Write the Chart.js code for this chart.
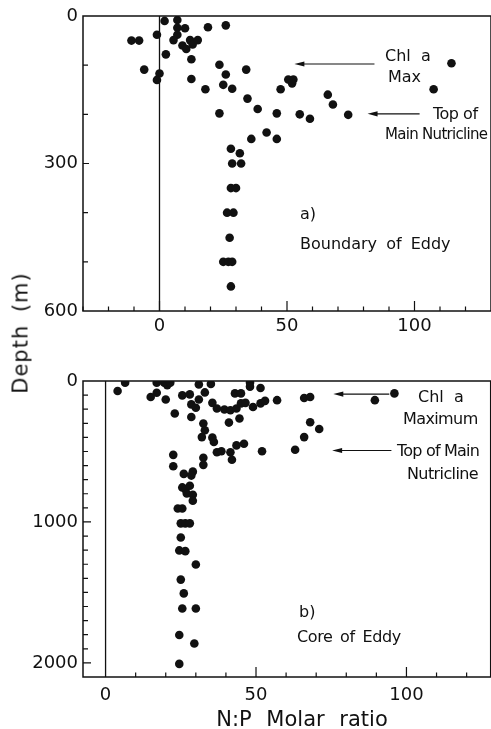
<!DOCTYPE html>
<html>
<head>
<meta charset="utf-8">
<script src="https://cdn.jsdelivr.net/npm/chart.js@4"></script>
<style>
  html,body{margin:0;padding:0;background:#fff;}
  body{width:491px;height:729px;position:relative;overflow:hidden;font-family:"DejaVu Sans",sans-serif;color:#111;}
  canvas{position:absolute;left:0;}
  .t{position:absolute;white-space:nowrap;font-size:15px;line-height:1;color:#111;}
</style>
</head>
<body>
<canvas id="ca" width="496" height="345" style="top:0"></canvas>
<canvas id="cb" width="495" height="374" style="top:355px"></canvas>

<div class="t" style="left:385px;top:48px;font-size:16px;">Chl&nbsp;&nbsp;a</div>
<div class="t" style="left:388px;top:69px;font-size:16px;">Max</div>
<div class="t" style="left:433px;top:106px;font-size:16px;letter-spacing:-0.5px;">Top of</div>
<div class="t" style="left:385px;top:127px;font-size:15px;letter-spacing:-0.7px;">Main Nutricline</div>
<div class="t" style="left:300px;top:206px;font-size:16px;">a)</div>
<div class="t" style="left:300px;top:236px;font-size:16px;word-spacing:4px;">Boundary of Eddy</div>

<div class="t" style="left:418px;top:389px;font-size:16px;">Chl&nbsp;&nbsp;a</div>
<div class="t" style="left:403px;top:411px;font-size:16px;letter-spacing:-0.6px;">Maximum</div>
<div class="t" style="left:397px;top:443px;font-size:16px;letter-spacing:-0.8px;">Top of Main</div>
<div class="t" style="left:407px;top:466px;font-size:16px;letter-spacing:-0.6px;">Nutricline</div>
<div class="t" style="left:299px;top:604px;font-size:16px;">b)</div>
<div class="t" style="left:297px;top:629px;font-size:16px;word-spacing:3px;letter-spacing:-0.4px;">Core of Eddy</div>

<div class="t" style="left:21px;top:333px;font-size:21px;transform:translate(-50%,-50%) rotate(-90deg);letter-spacing:1px;word-spacing:5px;">Depth (m)</div>
<div class="t" style="left:302px;top:719px;font-size:21px;transform:translate(-50%,-50%);word-spacing:8px;">N:P Molar ratio</div>

<script>
// Panel a: Boundary of Eddy
const ratioA = [2,7,7,10,19,26,-11,-8,-1,7,5.5,9,10.5,12,13,15,2.5,12.5,-6,0,-1,12.5,23.5,26,34,18,25,28.5,34.5,38.5,23.5,46,42,36,46,47.5,28,31.5,28.5,32,114.5,107.5,50.5,52.5,52,66,68,55,59,74,28,30,26.5,29,27.5,25,27,28.5,28];
const depthA = [10,8,24,25,23,19,50,50,38,38,49,60,67,49,58,49,78,88,109,117,130,128,99,119,109,149,140,148,168,189,198,198,237,250,250,149,270,279,300,300,96,149,129,129,137,160,180,200,209,201,350,350,400,400,451,500,500,500,550];

// Panel b: Core of Eddy
const ratioB = [4,6.5,15,17,17,19.5,20.5,21.5,20,23,25.5,28,28.5,30,31,35,33,31,28.5,32.5,33,32,35.5,36,22.5,22.5,32.5,32.5,35.5,37,39.5,41.5,43.5,45,46.5,49,51.5,53,43,45,41,44.5,48,48,51.5,57,37,38.5,41.5,42,43.5,46,52,26,29,25.5,26.5,28,28.5,27,29,29,24,25.5,25,26.5,28,25,24.5,26.5,30,25,26,25.5,30,24.5,29.5,24.5,66,68,89.5,96,68,71,66,63];
const depthB = [71,12,114,12,83,12,29,12,131,231,102,95,166,190,24,21,81,131,255,302,350,398,402,433,524,605,545,595,155,195,202,207,195,159,155,184,159,141,88,88,295,266,12,40,50,136,505,498,505,559,457,445,498,659,643,755,767,743,671,798,807,850,905,905,1010,1010,1010,1110,1202,1207,1302,1409,1507,1614,1614,1802,1862,2007,121,114,136,88,293,341,398,488];

// axis tick values and labels
const xTickValsA = [-30,-20,-10,0,10,20,30,40,50,60,70,80,90,100,110,120];
const yTickValsA = [100,200,300,400,500];
const xLabelsA = [0,50,100];
const yLabelsA = [0,300,600];
const xTickValsB = [10,20,30,40,50,60,70,80,90,100,110,120];
const yTickValsB = [100,200,300,400,500,600,700,800,900,1000,1100,1200,1300,1400,1500,1600,1700,1800,1900,2000];
const xLabelsB = [0,50,100];
const yLabelsB = [0,1000,2000];

// arrows: [fromX, toX, depth]
const arrowsA = [[84.3,52.9,97.6],[102,81.6,199]];
const arrowsB = [[94.3,75.7,93],[95,75.3,493]];

const toPts = (xs, ys) => xs.map((v,i)=>({x:v, y:ys[i]}));

const framePlugin = {
  id:'frame',
  afterDraw(chart, args, o){
    const {ctx, chartArea:a, scales:{x,y}} = chart;
    ctx.save();
    ctx.strokeStyle='#111';
    ctx.lineWidth=1.5;
    ctx.strokeRect(a.left,a.top,a.right-a.left,a.bottom-a.top);
    const x0 = x.getPixelForValue(0);
    ctx.lineWidth=1.3;
    ctx.beginPath(); ctx.moveTo(x0,a.top); ctx.lineTo(x0,a.bottom); ctx.stroke();
    ctx.lineWidth=1.2;
    ctx.beginPath();
    o.xTicks.forEach(v=>{
      const px = x.getPixelForValue(v);
      const len = (v%50===0)?o.majorX:o.minorX;
      ctx.moveTo(px,a.bottom); ctx.lineTo(px,a.bottom-len);
    });
    o.yTicks.forEach(v=>{
      const py = y.getPixelForValue(v);
      const len = (v%o.yMajor===0)?o.majorY:o.minorY;
      ctx.moveTo(a.left,py); ctx.lineTo(a.left+len,py);
    });
    ctx.stroke();
    ctx.fillStyle='#111';
    ctx.lineWidth=1.2;
    o.arrows.forEach(([fx,tx,d])=>{
      const x1=x.getPixelForValue(fx), x2=x.getPixelForValue(tx), py=y.getPixelForValue(d);
      ctx.beginPath(); ctx.moveTo(x1,py); ctx.lineTo(x2+6,py); ctx.stroke();
      ctx.beginPath(); ctx.moveTo(x2,py); ctx.lineTo(x2+10,py-2.6); ctx.lineTo(x2+10,py+2.6); ctx.closePath(); ctx.fill();
    });
    ctx.restore();
  }
};

function makeChart(id, pts, cfg){
  return new Chart(document.getElementById(id), {
    type:'scatter',
    data:{datasets:[{data:pts, backgroundColor:'#111', borderColor:'#111', pointRadius:4.3, pointHoverRadius:4.3, borderWidth:0}]},
    options:{
      responsive:false, animation:false, devicePixelRatio:1,
      layout:{padding:{top:cfg.padTop,right:0,left:0,bottom:0}},
      plugins:{legend:{display:false}, tooltip:{enabled:false},
        frame:{xTicks:cfg.xTicks,yTicks:cfg.yTicks,yMajor:cfg.yMajor,majorX:10,minorX:4.5,majorY:cfg.majorY,minorY:5,arrows:cfg.arrows}},
      scales:{
        x:{type:'linear', min:cfg.xmin, max:cfg.xmax,
           grid:{display:false, drawTicks:false}, border:{display:false},
           afterFit:s=>{s.height=cfg.xh;},
           ticks:{stepSize:10, includeBounds:false, padding:cfg.xpad, color:'#111', maxRotation:0, autoSkip:false,
             font:{family:'DejaVu Sans', size:18},
             callback:v=> cfg.xLabels.includes(v)? String(v):''}},
        y:{type:'linear', reverse:true, min:0, max:cfg.ymax,
           grid:{display:false, drawTicks:false}, border:{display:false},
           afterFit:s=>{s.width=83;},
           ticks:{stepSize:100, padding:5, color:'#111', autoSkip:false,
             font:{family:'DejaVu Sans', size:18},
             callback:v=> cfg.yLabels.includes(v)? String(v):''}}
      }
    },
    plugins:[framePlugin]
  });
}

makeChart('ca', toPts(ratioA, depthA), {
  padTop:16, xmin:-30, xmax:130, ymax:600, xh:34, xpad:5,
  xLabels:xLabelsA, yLabels:yLabelsA, xTicks:xTickValsA, yTicks:yTickValsA, yMajor:300, majorY:6,
  arrows:arrowsA
});
makeChart('cb', toPts(ratioB, depthB), {
  padTop:26, xmin:-7.5, xmax:128, ymax:2100, xh:52, xpad:8,
  xLabels:xLabelsB, yLabels:yLabelsB, xTicks:xTickValsB, yTicks:yTickValsB, yMajor:1000, majorY:8,
  arrows:arrowsB
});
</script>
</body>
</html>
